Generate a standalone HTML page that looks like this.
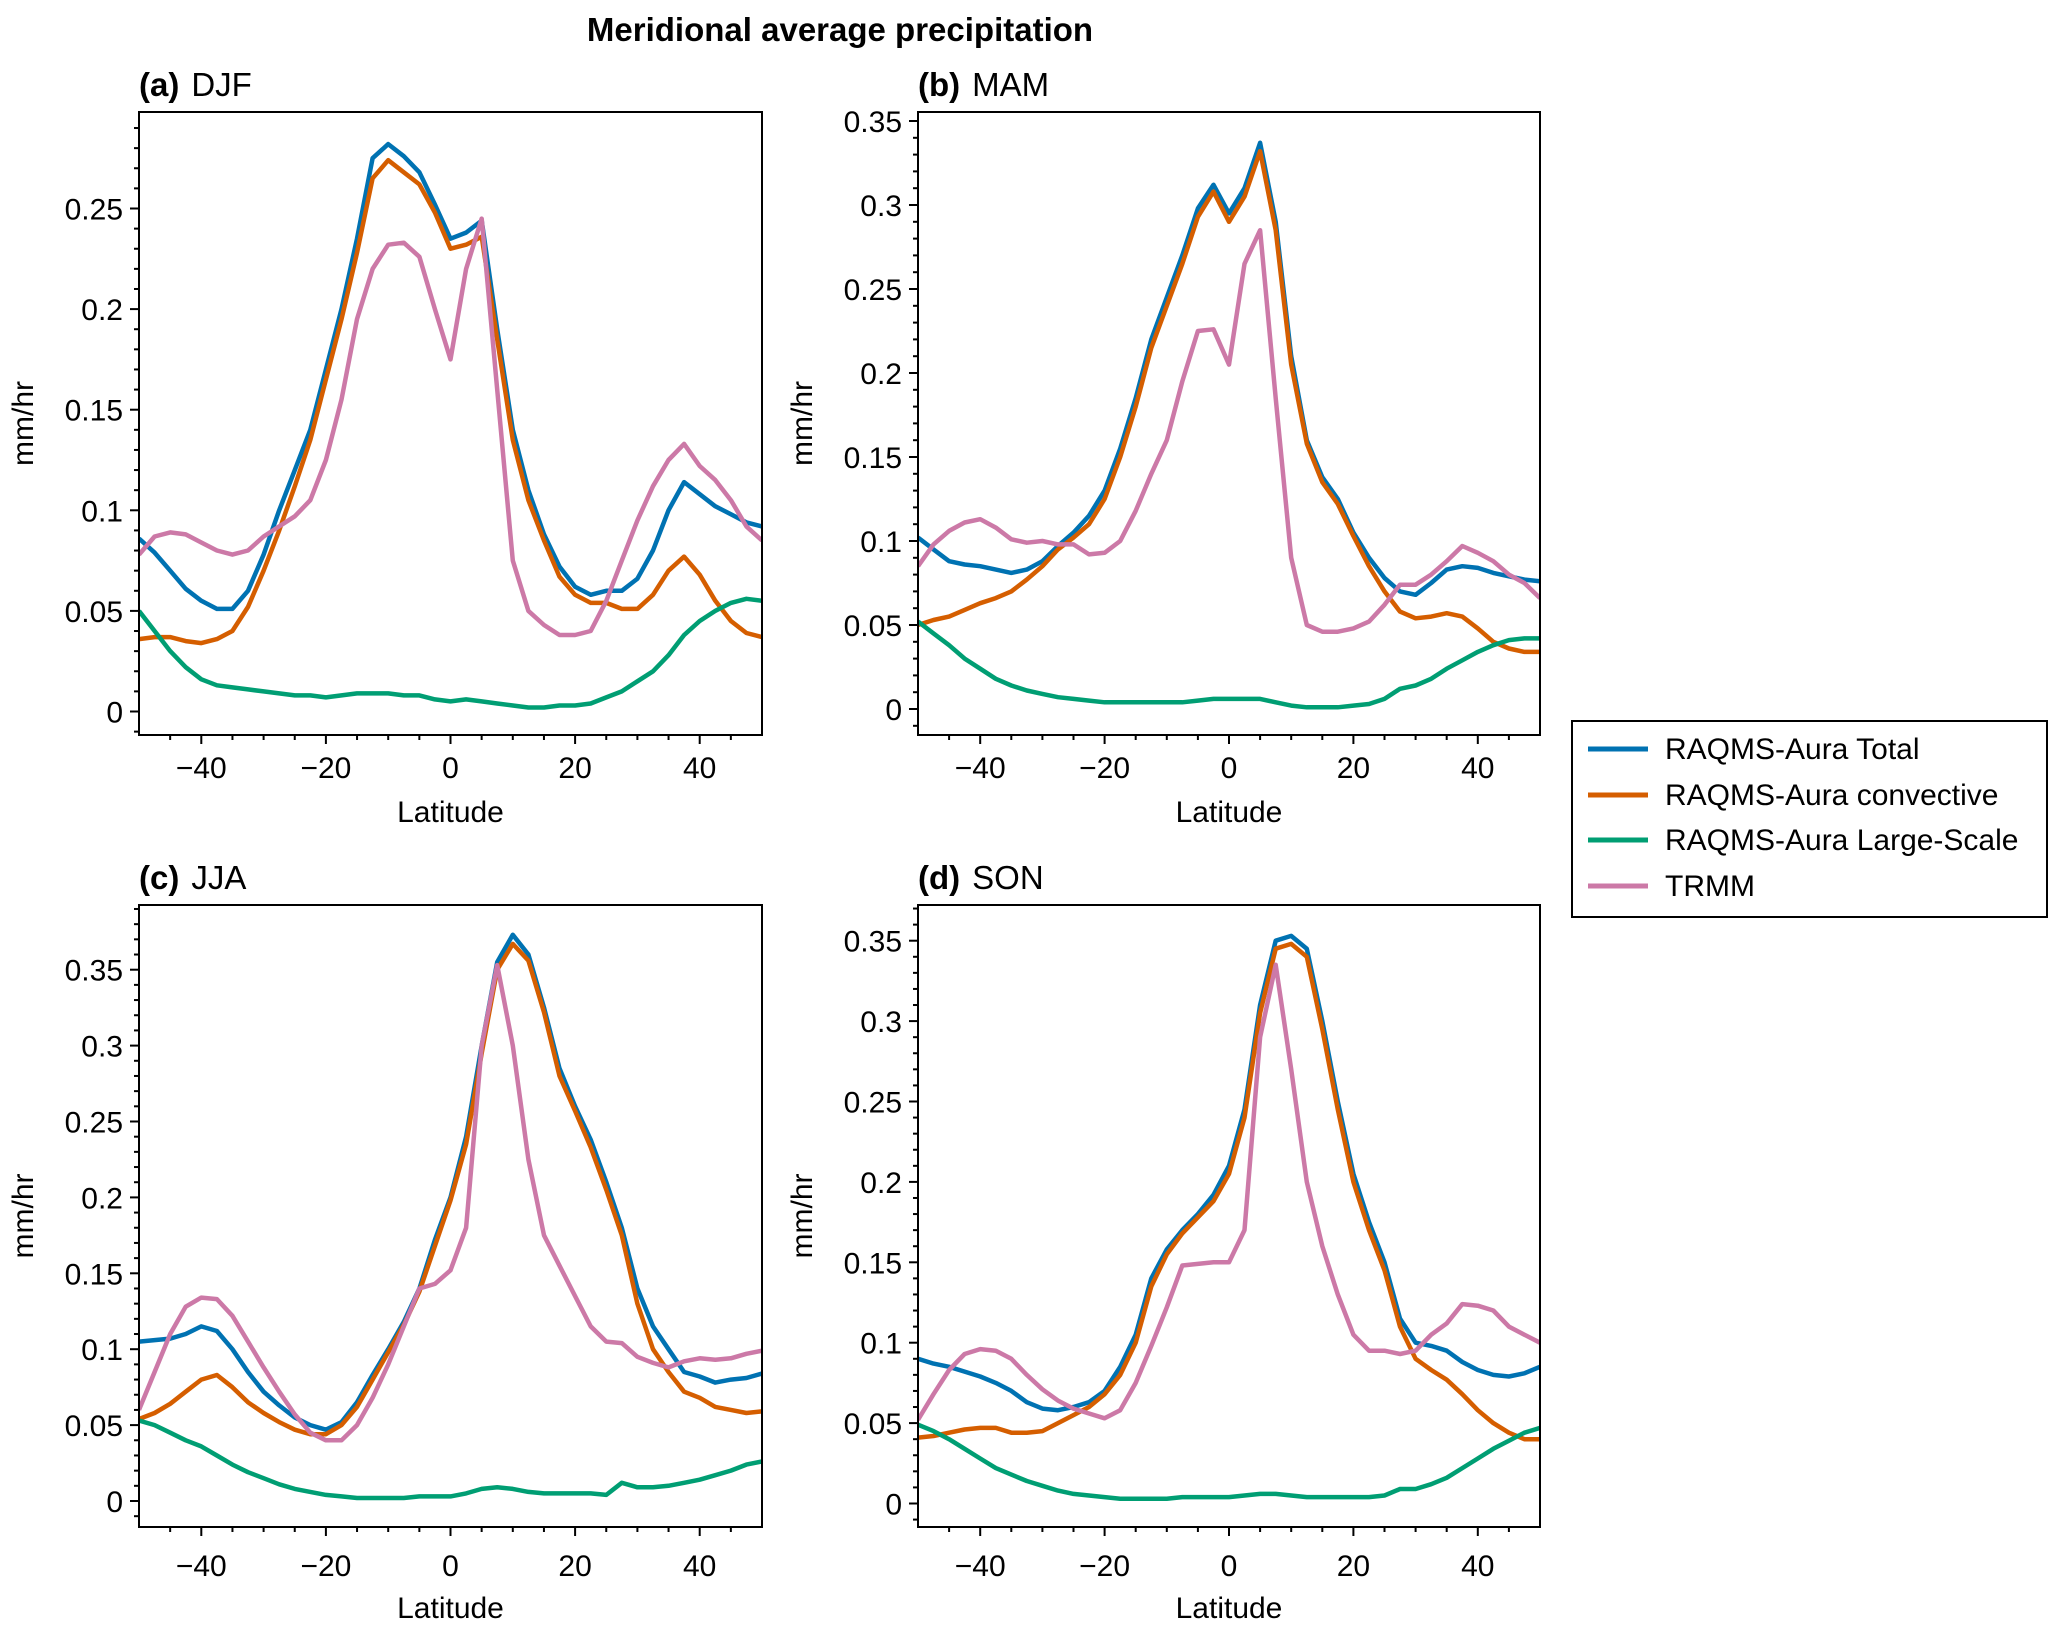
<!DOCTYPE html>
<html><head><meta charset="utf-8">
<style>
html,body{margin:0;padding:0;background:#fff;}
svg text{font-family:"Liberation Sans",sans-serif;fill:#000;}
</style></head>
<body>
<svg id="fig" width="2067" height="1633" viewBox="0 0 2067 1633" xmlns="http://www.w3.org/2000/svg">
<rect width="2067" height="1633" fill="#fff"/>
<text x="840" y="41" font-size="33" font-weight="bold" text-anchor="middle">Meridional average precipitation</text>
<g>
<rect x="1572" y="721" width="475" height="196" fill="#fff" stroke="#000" stroke-width="2"/>
<line x1="1588" y1="749" x2="1648" y2="749" stroke="#0072B2" stroke-width="5"/>
<text x="1665" y="759" font-size="30">RAQMS-Aura Total</text>
<line x1="1588" y1="795" x2="1648" y2="795" stroke="#D55E00" stroke-width="5"/>
<text x="1665" y="805" font-size="30">RAQMS-Aura convective</text>
<line x1="1588" y1="840" x2="1648" y2="840" stroke="#009E73" stroke-width="5"/>
<text x="1665" y="850" font-size="30">RAQMS-Aura Large-Scale</text>
<line x1="1588" y1="886" x2="1648" y2="886" stroke="#CC79A7" stroke-width="5"/>
<text x="1665" y="896" font-size="30">TRMM</text>
</g>
</svg>
<script>
const lats = [-50,-47.5,-45,-42.5,-40,-37.5,-35,-32.5,-30,-27.5,-25,-22.5,-20,-17.5,-15,-12.5,-10,-7.5,-5,-2.5,0,2.5,5,7.5,10,12.5,15,17.5,20,22.5,25,27.5,30,32.5,35,37.5,40,42.5,45,47.5,50];
const seriesNames = ["RAQMS-Aura Total","RAQMS-Aura convective","RAQMS-Aura Large-Scale","TRMM"];
const xTicks = [-40,-20,0,20,40];
const xTickLabels = ["\u221240","\u221220","0","20","40"];

const djfTotal = [.086,.079,.07,.061,.055,.051,.051,.06,.078,.1,.12,.14,.17,.2,.235,.275,.282,.276,.268,.252,.235,.238,.244,.19,.14,.11,.088,.072,.062,.058,.06,.06,.066,.08,.1,.114,.108,.102,.098,.094,.092];
const djfConv = [.036,.037,.037,.035,.034,.036,.04,.052,.07,.09,.112,.135,.165,.195,.228,.265,.274,.268,.262,.248,.23,.232,.236,.185,.135,.105,.085,.067,.058,.054,.054,.051,.051,.058,.07,.077,.068,.055,.045,.039,.037];
const djfLS = [.05,.04,.03,.022,.016,.013,.012,.011,.01,.009,.008,.008,.007,.008,.009,.009,.009,.008,.008,.006,.005,.006,.005,.004,.003,.002,.002,.003,.003,.004,.007,.01,.015,.02,.028,.038,.045,.05,.054,.056,.055];
const djfTRMM = [.078,.087,.089,.088,.084,.08,.078,.08,.087,.092,.097,.105,.125,.155,.195,.22,.232,.233,.226,.2,.175,.22,.245,.16,.075,.05,.043,.038,.038,.04,.055,.075,.095,.112,.125,.133,.122,.115,.105,.092,.085];

const mamTotal = [.102,.095,.088,.086,.085,.083,.081,.083,.088,.097,.105,.115,.13,.155,.185,.22,.245,.27,.298,.312,.295,.31,.337,.29,.21,.16,.138,.125,.105,.09,.078,.07,.068,.075,.083,.085,.084,.081,.079,.077,.076];
const mamConv = [.05,.053,.055,.059,.063,.066,.07,.077,.085,.095,.102,.11,.125,.15,.18,.215,.24,.265,.293,.308,.29,.305,.332,.285,.205,.158,.135,.122,.103,.085,.07,.058,.054,.055,.057,.055,.048,.04,.036,.034,.034];
const mamLS = [.052,.045,.038,.03,.024,.018,.014,.011,.009,.007,.006,.005,.004,.004,.004,.004,.004,.004,.005,.006,.006,.006,.006,.004,.002,.001,.001,.001,.002,.003,.006,.012,.014,.018,.024,.029,.034,.038,.041,.042,.042];
const mamTRMM = [.085,.098,.106,.111,.113,.108,.101,.099,.1,.098,.098,.092,.093,.1,.118,.14,.16,.195,.225,.226,.205,.265,.285,.185,.09,.05,.046,.046,.048,.052,.062,.074,.074,.08,.088,.097,.093,.088,.08,.075,.066];

const jjaTotal = [.105,.106,.107,.11,.115,.112,.1,.085,.072,.063,.055,.05,.047,.052,.065,.083,.1,.118,.14,.172,.2,.24,.3,.355,.373,.36,.325,.285,.26,.238,.21,.18,.14,.115,.1,.085,.082,.078,.08,.081,.084];
const jjaConv = [.054,.058,.064,.072,.08,.083,.075,.065,.058,.052,.047,.044,.044,.05,.062,.08,.098,.116,.138,.168,.198,.235,.295,.35,.367,.356,.322,.28,.257,.233,.205,.175,.13,.1,.085,.072,.068,.062,.06,.058,.059];
const jjaLS = [.053,.05,.045,.04,.036,.03,.024,.019,.015,.011,.008,.006,.004,.003,.002,.002,.002,.002,.003,.003,.003,.005,.008,.009,.008,.006,.005,.005,.005,.005,.004,.012,.009,.009,.01,.012,.014,.017,.02,.024,.026];
const jjaTRMM = [.06,.085,.11,.128,.134,.133,.122,.105,.088,.072,.057,.045,.04,.04,.05,.068,.09,.115,.14,.143,.152,.18,.3,.353,.3,.225,.175,.155,.135,.115,.105,.104,.095,.091,.088,.092,.094,.093,.094,.097,.099];

const sonTotal = [.09,.087,.085,.082,.079,.075,.07,.063,.059,.058,.06,.063,.07,.085,.105,.14,.158,.17,.18,.192,.21,.245,.31,.35,.353,.345,.3,.25,.205,.175,.15,.115,.1,.098,.095,.088,.083,.08,.079,.081,.085];
const sonConv = [.041,.042,.044,.046,.047,.047,.044,.044,.045,.05,.055,.06,.068,.08,.1,.135,.155,.168,.178,.188,.205,.24,.305,.345,.348,.34,.295,.245,.2,.17,.145,.11,.09,.083,.077,.068,.058,.05,.044,.04,.04];
const sonLS = [.049,.045,.04,.034,.028,.022,.018,.014,.011,.008,.006,.005,.004,.003,.003,.003,.003,.004,.004,.004,.004,.005,.006,.006,.005,.004,.004,.004,.004,.004,.005,.009,.009,.012,.016,.022,.028,.034,.039,.044,.047];
const sonTRMM = [.052,.068,.083,.093,.096,.095,.09,.08,.071,.064,.059,.056,.053,.058,.075,.098,.122,.148,.149,.15,.15,.17,.29,.335,.27,.2,.16,.13,.105,.095,.095,.093,.095,.105,.112,.124,.123,.12,.11,.105,.1];

const ticksA = [0,0.05,0.1,0.15,0.2,0.25];
const ticksB = [0,0.05,0.1,0.15,0.2,0.25,0.3,0.35];
const tickLabelsA = ["0","0.05","0.1","0.15","0.2","0.25"];
const tickLabelsB = ["0","0.05","0.1","0.15","0.2","0.25","0.3","0.35"];

const colors = ["#0072B2","#D55E00","#009E73","#CC79A7"];
const NS = "http://www.w3.org/2000/svg";
const svg = document.getElementById('fig');

function mk(tag, attrs, parent){
  const e = document.createElementNS(NS, tag);
  for (const k in attrs) e.setAttribute(k, attrs[k]);
  parent.appendChild(e);
  return e;
}

const panels = [
  {key:'a', tag:'(a)', season:'DJF', L:139, R:762, T:112, B:735, y0:711.5, ppu:100.6/0.05, ticks:ticksA, labels:tickLabelsA, data:[djfTotal,djfConv,djfLS,djfTRMM], xlabY:767, latY:811},
  {key:'b', tag:'(b)', season:'MAM', L:918, R:1540, T:112, B:735, y0:709, ppu:84.0/0.05, ticks:ticksB, labels:tickLabelsB, data:[mamTotal,mamConv,mamLS,mamTRMM], xlabY:767, latY:811},
  {key:'c', tag:'(c)', season:'JJA', L:139, R:762, T:905, B:1527, y0:1501, ppu:75.9/0.05, ticks:ticksB, labels:tickLabelsB, data:[jjaTotal,jjaConv,jjaLS,jjaTRMM], xlabY:1565, latY:1607},
  {key:'d', tag:'(d)', season:'SON', L:918, R:1540, T:905, B:1527, y0:1503.5, ppu:80.4/0.05, ticks:ticksB, labels:tickLabelsB, data:[sonTotal,sonConv,sonLS,sonTRMM], xlabY:1565, latY:1607}
];

panels.forEach(p => {
  const g = mk('g', {}, svg);
  
  
  const xs = v => p.L + (v + 50) / 100 * (p.R - p.L);
  const ys = v => p.y0 - v * p.ppu;
  const vmax = (p.y0 - p.T) / p.ppu, vmin = (p.y0 - p.B) / p.ppu;

  const clipId = 'clip' + p.key;
  const cp = mk('clipPath', {id: clipId}, g);
  mk('rect', {x:p.L, y:p.T, width:p.R-p.L, height:p.B-p.T}, cp);
  const sg = mk('g', {'clip-path':'url(#'+clipId+')'}, g);
  p.data.forEach((arr, si) => {
    const d = arr.map((v,i) => (i?'L':'M') + xs(lats[i]).toFixed(1) + ',' + ys(v).toFixed(1)).join(' ');
    const path = mk('path', {d:d, fill:'none', stroke:colors[si], 'stroke-width':4.5, 'stroke-linejoin':'round'}, sg);
    
    
  });

  const fr = mk('rect', {x:p.L, y:p.T, width:p.R-p.L, height:p.B-p.T, fill:'none', stroke:'#000', 'stroke-width':2}, g);
  
  

  for (let v = -45; v <= 45; v += 5) {
    const major = v % 20 === 0;
    mk('line', {x1:xs(v), x2:xs(v), y1:p.B, y2:p.B + (major?9:5), stroke:'#000', 'stroke-width':2}, g);
  }
  xTicks.forEach((v,i) => {
    const t = mk('text', {x:xs(v), y:p.xlabY + 11, 'font-size':30, 'text-anchor':'middle'}, g);
    t.textContent = xTickLabels[i];
    
    
  });
  const xl = mk('text', {x:(p.L+p.R)/2, y:p.latY + 11, 'font-size':30, 'text-anchor':'middle'}, g);
  xl.textContent = 'Latitude';
  
  

  for (let k = Math.ceil(vmin*100); k <= Math.floor(vmax*100); k++) {
    const v = k/100;
    const major = k % 5 === 0;
    mk('line', {x1:p.L, x2:p.L - (major?9:5), y1:ys(v), y2:ys(v), stroke:'#000', 'stroke-width':2}, g);
  }
  p.ticks.forEach((v,i) => {
    const t = mk('text', {x:p.L - 16, y:ys(v) + 11, 'font-size':30, 'text-anchor':'end'}, g);
    t.textContent = p.labels[i];
    
    
  });
  const yl = mk('text', {x:0, y:0, 'font-size':30, 'text-anchor':'middle', transform:'translate(' + (p.L - 106) + ',' + ((p.T+p.B)/2) + ') rotate(-90)'}, g);
  yl.textContent = 'mm/hr';
  
  

  const tt = mk('text', {x:p.L, y:p.T - 16, 'font-size':33}, g);
  
  
  const b = mk('tspan', {'font-weight':'bold'}, tt);
  b.textContent = p.tag;
  const s = mk('tspan', {dx:12}, tt);
  s.textContent = p.season;
});
</script>
</body></html>
